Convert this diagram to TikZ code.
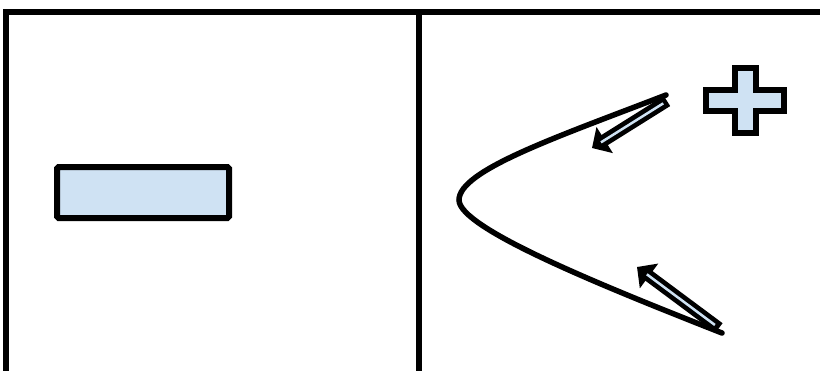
\documentclass[tikz,border=0pt]{standalone}
\usetikzlibrary{arrows.meta,calc}
\definecolor{lightfill}{RGB}{207,226,243}
\tikzset{
  frame/.style={line width=6pt, draw=black},
  shapebox/.style={line width=6pt, draw=black, fill=lightfill, line join=miter},
  curveline/.style={line width=5.5pt, draw=black, line cap=round},
  arrowouter/.style={line width=12pt, draw=black, -{Triangle[length=15pt,width=30pt]}},
  arrowinner/.style={line width=2.5pt, draw=lightfill}
}
\begin{document}
\begin{tikzpicture}[x=1pt,y=-1pt]
\useasboundingbox (0,0) rectangle (820,370);
% frame
\coordinate (tl) at (6,12);
\coordinate (tr) at (822,12);
\coordinate (bl) at (6,372);
\coordinate (mt) at (419,12);
\coordinate (mb) at (419,372);
\draw[frame] (bl) -- (tl) -- (tr);
\draw[frame] (mt) -- (mb);
% minus rectangle
\draw[shapebox, rounded corners=1.5pt] (57,167) rectangle (229,218);
% plus sign
\draw[shapebox] (735,68) -- (756,68) -- (756,90) -- (784,90) -- (784,111)
  -- (756,111) -- (756,133) -- (735,133) -- (735,111) -- (706,111)
  -- (706,90) -- (735,90) -- cycle;
% curve
\coordinate (c1) at (666,95);
\coordinate (v) at (459,200);
\coordinate (c2) at (722,333);
\draw[curveline] (c1) .. controls (560,136) and (459,170) .. (v)
  .. controls (459,228) and (600,285) .. (c2);
% upper arrow
\coordinate (a1s) at (667,101);
\coordinate (a1e) at (592,148);
\draw[arrowouter] (a1s) -- (a1e);
\draw[arrowinner] ($(a1s)!0.05!(a1e)$) -- ($(a1s)!0.88!(a1e)$);
% lower arrow
\coordinate (a2s) at (719,328);
\coordinate (a2e) at (637,267);
\draw[arrowouter] (a2s) -- (a2e);
\draw[arrowinner] ($(a2s)!0.05!(a2e)$) -- ($(a2s)!0.88!(a2e)$);
\end{tikzpicture}
\end{document}
